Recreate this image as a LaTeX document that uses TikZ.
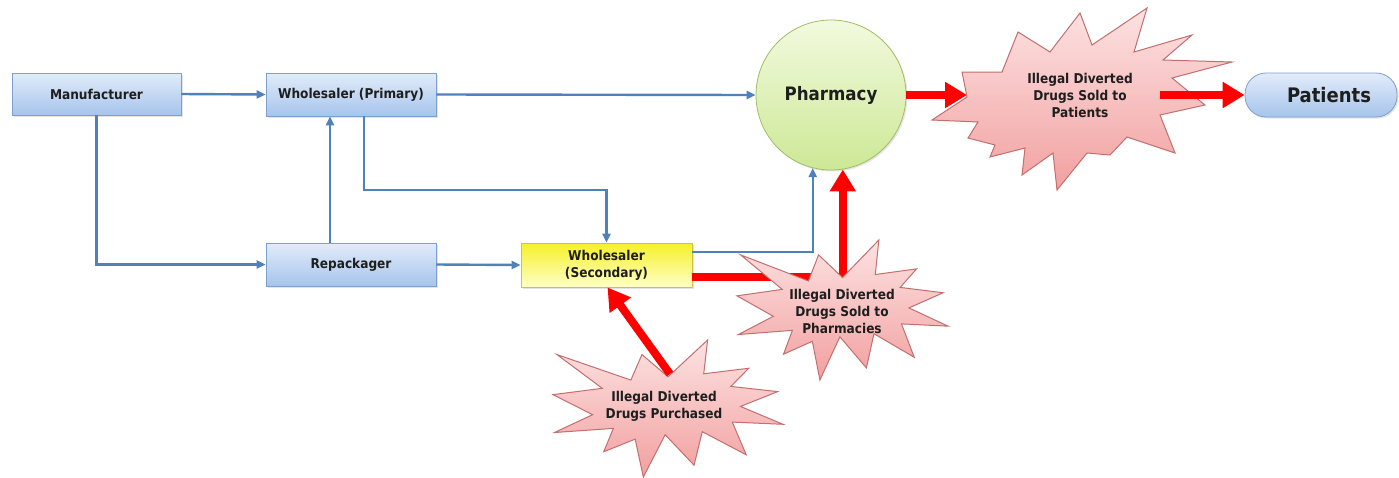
\documentclass[tikz,border=0pt]{standalone}
\usepackage{fontspec}
\setmainfont{DejaVu Sans Condensed}
\usetikzlibrary{arrows.meta,shadows}
\definecolor{boxtop}{RGB}{226,236,250}
\definecolor{boxbot}{RGB}{166,196,236}
\definecolor{boxedge}{RGB}{125,160,205}
\definecolor{flowblue}{RGB}{79,129,189}
\definecolor{yeltop}{RGB}{246,240,40}
\definecolor{yelbot}{RGB}{255,255,200}
\definecolor{yeledge}{RGB}{205,195,70}
\definecolor{phtop}{RGB}{242,250,222}
\definecolor{phbot}{RGB}{205,232,150}
\definecolor{phedge}{RGB}{160,190,100}
\definecolor{startop}{RGB}{253,226,226}
\definecolor{starbot}{RGB}{242,160,160}
\definecolor{staredge}{RGB}{196,110,110}
\definecolor{txt}{RGB}{30,30,30}
\definecolor{redflow}{RGB}{255,0,0}
\tikzset{
  box/.style={draw=boxedge, line width=0.8pt, top color=boxtop, bottom color=boxbot,
    minimum width=170pt, minimum height=43pt, inner sep=0pt, align=center, text=txt,
    drop shadow={opacity=0.22, shadow xshift=1.5pt, shadow yshift=-1.5pt}},
  bluearrow/.style={draw=flowblue, line width=2.4pt, -{Triangle[length=9pt,width=8pt]}},
  redarrow/.style={draw=redflow, line width=8pt, -{Triangle[length=22pt,width=25pt]}},
  starsty/.style={draw=staredge, line width=1pt, top color=startop, bottom color=starbot, line join=miter},
  startext/.style={align=center, text=txt, inner sep=0pt},
  explosion/.pic={
    \shade[starsty] (0.5,0.2685) -- (0.6723,0) -- (0.6553,0.2465) -- (0.8509,0.2063)
      -- (0.7732,0.3387) -- (0.9767,0.3767) -- (0.8151,0.4850) -- (1,0.6153)
      -- (0.7795,0.5992) -- (0.8400,0.8377) -- (0.6491,0.6693) -- (0.6133,0.9137)
      -- (0.4876,0.6914) -- (0.3928,1) -- (0.3572,0.7235) -- (0.2205,0.8156)
      -- (0.2624,0.6452) -- (0.0063,0.6753) -- (0.1723,0.5451) -- (0,0.3988)
      -- (0.2142,0.3526) -- (0.0171,0.1063) -- (0.3385,0.2926) -- (0.3867,0.1063) -- cycle;
  }
}
\begin{document}
\begin{tikzpicture}[x=1pt,y=-1pt,font=\bfseries\fontsize{13.5}{17}\selectfont]
\useasboundingbox[fill=white] (0,0) rectangle (1399,477);

% nodes
\node[box, minimum width=169pt, minimum height=42pt] (man) at (96.5,94) {Manufacturer};
\node[box] (wp) at (351,94.5) {Wholesaler (Primary)};
\node[box] (rep) at (351,264.5) {Repackager};
\node[box, top color=yeltop, bottom color=yelbot, draw=yeledge, minimum width=171pt, minimum height=44pt] (ws) at (606.5,265) {Wholesaler\\(Secondary)};
\node[circle, minimum size=150pt, inner sep=0pt, draw=phedge, line width=0.8pt, top color=phtop, bottom color=phbot, text=txt,
  drop shadow={opacity=0.2, shadow xshift=1.5pt, shadow yshift=-1.5pt},
  font=\bfseries\fontsize{18.5}{22}\selectfont] (ph) at (831,95) {Pharmacy};
\node[box, rounded corners=21pt, minimum width=152pt, minimum height=44pt,
  font=\bfseries\fontsize{20}{24}\selectfont] (pat) at (1321,95) {\hspace*{16pt}Patients};

% blue connectors
\coordinate (jog) at (606.5,190);
\draw[bluearrow] (man.east) -- (wp.west);
\draw[bluearrow] (man.south) |- (rep.west);
\draw[bluearrow] ([xshift=-21pt]rep.north) -- ([xshift=-21pt]wp.south);
\draw[bluearrow] ([xshift=13pt]wp.south) |- (jog) -- (ws.north);
\draw[bluearrow] (wp.east) -- (ph.west);
\draw[bluearrow] (rep.east) -- (ws.west);
\draw[bluearrow] ([yshift=13pt]ws.east) -| (ph.-104);

% red flow: secondary wholesaler -> pharmacy (behind star 2)
\draw[redarrow] ([yshift=-12pt]ws.east) -| (ph.-81);

% star 1: sold to patients
\coordinate (s1l) at (967,95);
\coordinate (s1r) at (1160,95);
\draw[redarrow] (ph.east) -- (s1l);
\shade[starsty] (1080,13) -- (1092,45) -- (1147,8) -- (1134,52) -- (1192,35) -- (1163,60)
  -- (1232,62) -- (1172,78) -- (1205,105) -- (1160,115) -- (1175,153) -- (1127,137)
  -- (1110,155) -- (1087,153) -- (1057,190) -- (1053,153) -- (1022,175) -- (1025,148)
  -- (990,157) -- (995,145) -- (968,138) -- (978,122) -- (932,120) -- (967,97)
  -- (962,72) -- (1002,72) -- (1018,32) -- (1050,52) -- cycle;
\node[startext] (t1) at (1080,95) {Illegal Diverted\\Drugs Sold to\\Patients};
\draw[redarrow] (s1r) -- (pat.west);

% star 2: sold to pharmacies
\pic[shift={(737,240)}, xscale=211, yscale=140] {explosion};
\node[startext] (t2) at (842,311) {Illegal Diverted\\Drugs Sold to\\Pharmacies};

% star 3: purchased
\pic[shift={(553,340)}, xscale=230, yscale=137] {explosion};
\node[startext] (t3) at (664,406) {Illegal Diverted\\Drugs Purchased};
\coordinate (s3a) at (670,374);
\draw[redarrow] (s3a) -- ([xshift=1pt]ws.south);
\end{tikzpicture}
\end{document}
